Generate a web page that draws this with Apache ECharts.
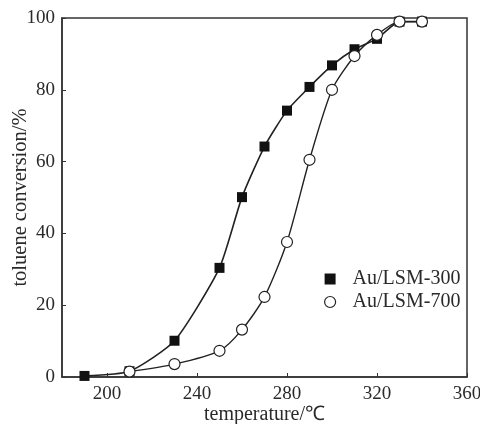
<!DOCTYPE html>
<html><head><meta charset="utf-8">
<script src="https://cdn.jsdelivr.net/npm/echarts@6/dist/echarts.min.js"></script>
<style>html,body{margin:0;padding:0;background:#fff}#c{width:480px;height:424px}</style>
</head><body><div id="c"></div>
<script>
const temps300 = [190, 210, 230, 250, 260, 270, 280, 290, 300, 310, 320, 330, 340];
const conv300 = [0.3, 1.6, 10.1, 30.4, 50.1, 64.2, 74.2, 80.8, 86.8, 91.3, 94.2, 99.0, 99.0];
const temps700 = [210, 230, 250, 260, 270, 280, 290, 300, 310, 320, 330, 340];
const conv700 = [1.5, 3.6, 7.3, 13.2, 22.3, 37.6, 60.5, 80.0, 89.4, 95.3, 99.0, 99.0];
const xTicks = [200, 240, 280, 320, 360];
const seriesNames = ['Au/LSM-300', 'Au/LSM-700'];

const font = 'Liberation Serif';
const txt = '#2a2a2a';
const chart = echarts.init(document.getElementById('c'), null, {renderer: 'canvas'});
chart.setOption({
  animation: false,
  backgroundColor: '#fff',
  grid: {left: 62, right: 13, top: 18, bottom: 47, show: true, borderColor: '#333', borderWidth: 1.5,
         containLabel: false, outerBoundsMode: 'none'},
  legend: {
    orient: 'vertical', left: 319, top: 264, itemGap: 3, itemWidth: 11, itemHeight: 11,
    textStyle: {fontFamily: font, fontSize: 20, color: txt, padding: [0, 0, 0, 12]},
    data: [
      {name: seriesNames[0], icon: 'rect', itemStyle: {color: '#111', borderWidth: 0}},
      {name: seriesNames[1], icon: 'circle', itemStyle: {color: '#fff', borderColor: '#222', borderWidth: 1.2}}
    ]
  },
  xAxis: {
    type: 'value', min: 180, max: 360, interval: 20,
    name: 'temperature/\u2103', nameLocation: 'middle', nameGap: 28, nameMoveOverlap: false,
    nameTextStyle: {fontFamily: font, fontSize: 20, color: txt},
    axisLine: {lineStyle: {color: '#333', width: 1.5}},
    axisTick: {inside: true, length: 4, customValues: xTicks, lineStyle: {color: '#333'}},
    axisLabel: {customValues: xTicks, fontFamily: font, fontSize: 19, color: txt, margin: 8},
    splitLine: {show: false}
  },
  yAxis: {
    type: 'value', min: 0, max: 100, interval: 20,
    name: 'toluene conversion/%', nameLocation: 'middle', nameGap: 31, nameMoveOverlap: false,
    nameTextStyle: {fontFamily: font, fontSize: 20.5, color: txt},
    axisLine: {show: true, lineStyle: {color: '#333', width: 1.5}},
    axisTick: {show: true, inside: true, length: 4, lineStyle: {color: '#333'}},
    axisLabel: {fontFamily: font, fontSize: 19, color: txt, margin: 7},
    splitLine: {show: false}
  },
  series: [
    {
      name: seriesNames[0], type: 'line', smooth: 0.2,
      data: temps300.map((t, i) => [t, conv300[i]]),
      symbol: 'rect', symbolSize: 10, showAllSymbol: true,
      itemStyle: {color: '#111', borderWidth: 0},
      lineStyle: {color: '#222', width: 1.6}, z: 2
    },
    {
      name: seriesNames[1], type: 'line', smooth: 0.25,
      data: temps700.map((t, i) => [t, conv700[i]]),
      symbol: 'circle', symbolSize: 11, showAllSymbol: true,
      itemStyle: {color: '#fff', borderColor: '#222', borderWidth: 1.2},
      lineStyle: {color: '#222', width: 1.4}, z: 3
    }
  ]
});
</script></body></html>
